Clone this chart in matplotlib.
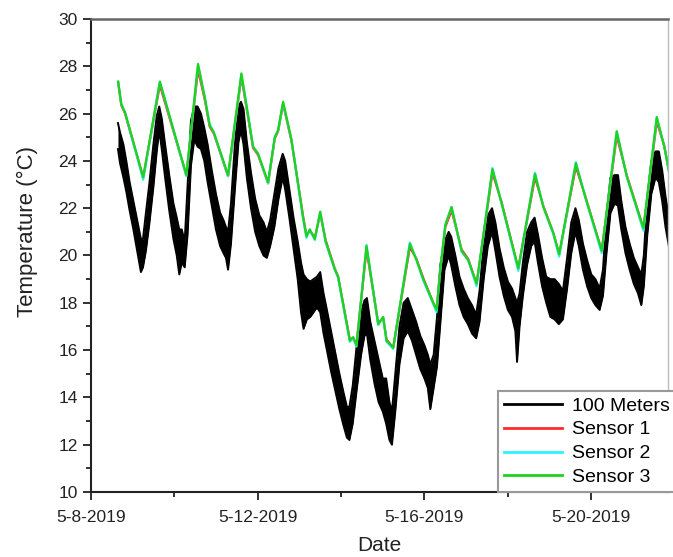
import matplotlib
matplotlib.use("Agg")
import matplotlib.pyplot as plt
import matplotlib.dates as mdates
from matplotlib.ticker import MultipleLocator, FuncFormatter
import numpy as np
import pandas as pd

plt.rcParams['font.family'] = ['Liberation Sans', 'DejaVu Sans']

start = pd.Timestamp("2019-05-08")

# 100 m reference logger: lower / upper edge of the noisy trace (days since 5-8-2019)
t_100m = [0.65, 0.70, 0.78, 0.85, 0.93, 1.02, 1.10, 1.20, 1.25, 1.32, 1.40, 1.50,
          1.58, 1.64, 1.70, 1.78, 1.88, 1.98, 2.06, 2.12, 2.18, 2.25, 2.32, 2.40,
          2.48, 2.56, 2.64, 2.72, 2.80, 2.90, 3.00, 3.10, 3.18, 3.24, 3.29, 3.36,
          3.45, 3.54, 3.60, 3.66, 3.74, 3.84, 3.94, 4.04, 4.14, 4.22, 4.30, 4.40,
          4.50, 4.60, 4.66, 4.76, 4.86, 4.96, 5.04, 5.10, 5.18, 5.26, 5.34, 5.42,
          5.50, 5.58, 5.66, 5.76, 5.86, 5.96, 6.06, 6.14, 6.20, 6.28, 6.38, 6.48,
          6.56, 6.62, 6.70, 6.80, 6.90, 7.00, 7.08, 7.16, 7.22, 7.30, 7.40, 7.50,
          7.60, 7.70, 7.80, 7.90, 8.00, 8.08, 8.14, 8.22, 8.30, 8.38, 8.48, 8.58,
          8.64, 8.74, 8.84, 8.94, 9.04, 9.14, 9.24, 9.32, 9.42, 9.52, 9.62, 9.70,
          9.80, 9.90, 10.00, 10.10, 10.18, 10.22, 10.28, 10.36, 10.46, 10.56, 10.64, 10.72,
          10.82, 10.92, 11.02, 11.12, 11.22, 11.32, 11.42, 11.52, 11.62, 11.70, 11.80, 11.90,
          12.00, 12.10, 12.20, 12.28, 12.36, 12.46, 12.56, 12.64, 12.72, 12.82, 12.92, 13.02,
          13.12, 13.20, 13.26, 13.34, 13.44, 13.54, 13.62, 13.70, 13.78, 13.86]
temp_100m_lo = [24.5, 23.9, 23.3, 22.7, 21.9, 21.1, 20.3, 19.3, 19.5, 20.2, 21.3, 22.9,
                24.4, 25.3, 24.5, 23.3, 21.9, 20.7, 20.0, 19.2, 19.7, 19.5, 20.9, 23.8,
                24.9, 24.6, 24.5, 24.0, 23.1, 22.1, 21.1, 20.4, 20.1, 19.9, 19.4, 20.5,
                22.7, 24.8, 25.3, 24.7, 23.3, 22.0, 21.0, 20.4, 20.0, 19.9, 20.4, 21.2,
                22.4, 23.3, 22.8, 21.6, 20.3, 19.0, 17.6, 16.9, 17.3, 17.4, 17.6, 17.8,
                17.6, 16.7, 16.0, 15.1, 14.3, 13.5, 12.8, 12.3, 12.2, 12.9, 14.4, 15.8,
                16.6, 16.7, 15.6, 14.6, 13.8, 13.4, 12.9, 12.2, 12.0, 13.4, 15.4, 16.5,
                16.8, 16.4, 15.8, 15.2, 14.8, 14.4, 13.5, 14.4, 15.3, 17.1, 19.4, 20.0,
                19.6, 18.7, 17.9, 17.4, 17.1, 16.7, 16.5, 17.2, 19.0, 20.4, 21.0, 20.2,
                19.1, 18.3, 17.7, 17.4, 16.8, 15.5, 17.0, 18.3, 19.6, 20.4, 20.6, 19.7,
                18.7, 18.0, 17.4, 17.3, 17.1, 17.3, 18.6, 20.1, 21.0, 20.4, 19.4, 18.7,
                18.2, 17.9, 17.7, 18.3, 20.0, 21.8, 22.2, 22.1, 21.1, 20.1, 19.4, 18.8,
                18.4, 17.9, 18.7, 20.8, 22.6, 23.3, 23.1, 22.3, 21.2, 20.4]
temp_100m_hi = [25.6, 25.2, 24.7, 24.0, 23.1, 22.3, 21.6, 20.7, 20.7, 21.8, 23.0, 24.7,
                25.9, 26.3, 25.8, 24.7, 23.4, 22.2, 21.6, 21.1, 21.1, 20.6, 23.0, 25.7,
                26.3, 26.3, 26.0, 25.4, 24.7, 23.6, 22.6, 21.8, 21.5, 21.2, 21.0, 22.2,
                24.6, 26.3, 26.5, 26.2, 24.8, 23.5, 22.4, 21.7, 21.4, 21.0, 21.5, 22.6,
                23.7, 24.3, 24.0, 22.8, 21.6, 20.6, 19.7, 19.2, 19.0, 18.9, 19.0, 19.1,
                19.3, 18.4, 17.7, 16.8, 15.9, 15.0, 14.2, 13.6, 13.6, 14.5, 16.3, 17.6,
                18.1, 18.2, 17.2, 16.4, 15.6, 14.8, 14.8, 13.8, 13.4, 15.0, 17.0, 18.0,
                18.2, 17.7, 17.2, 16.6, 16.2, 15.8, 15.4, 15.8, 17.4, 19.6, 20.6, 21.0,
                20.8, 20.0, 19.1, 18.6, 18.2, 17.9, 17.5, 18.5, 20.5, 21.7, 22.0, 21.4,
                20.3, 19.5, 18.9, 18.6, 18.2, 18.0, 18.4, 19.7, 21.0, 21.4, 21.6, 20.9,
                19.9, 19.1, 19.0, 19.0, 18.8, 18.5, 19.9, 21.4, 22.0, 21.5, 20.5, 19.8,
                19.2, 19.0, 18.6, 19.4, 21.6, 23.3, 23.4, 23.4, 22.3, 21.2, 20.5, 19.9,
                19.5, 19.2, 20.0, 22.4, 24.0, 24.4, 24.4, 23.6, 22.5, 21.6]

# probe sensors, sampled at the turning points of the daily cycle
t_sensor = [0.655, 0.73, 0.82, 1.255, 1.655, 2.29, 2.57, 2.73, 2.85, 2.95, 3.29, 3.61,
            3.89, 4.01, 4.25, 4.41, 4.49, 4.61, 4.81, 5.09, 5.17, 5.25, 5.37, 5.50,
            5.63, 5.85, 5.93, 6.21, 6.29, 6.37, 6.61, 6.89, 7.01, 7.09, 7.25, 7.65,
            7.81, 7.97, 8.21, 8.29, 8.37, 8.50, 8.65, 8.89, 9.05, 9.25, 9.63, 9.85,
            10.25, 10.65, 10.85, 11.09, 11.23, 11.63, 11.85, 12.25, 12.61, 12.85, 13.25, 13.57,
            13.75, 13.86]
sensor1 = [27.30, 26.35, 26.00, 23.30, 27.20, 23.40, 27.85, 26.60, 25.45, 25.15, 23.35, 27.55,
           24.55, 24.25, 23.05, 24.95, 25.25, 26.40, 24.85, 21.65, 20.85, 21.05, 20.75, 21.75,
           20.65, 19.45, 19.10, 16.45, 16.50, 16.25, 20.25, 17.15, 17.35, 16.45, 16.10, 20.35,
           19.85, 19.05, 18.00, 17.70, 19.20, 21.20, 21.90, 20.25, 19.85, 18.80, 23.50, 22.25,
           19.45, 23.30, 22.10, 20.95, 20.05, 23.75, 22.55, 20.20, 25.05, 23.40, 21.15, 25.65,
           24.65, 23.60]
sensor2 = [27.35, 26.40, 26.05, 23.20, 27.35, 23.35, 28.05, 26.70, 25.55, 25.20, 23.35, 27.65,
           24.60, 24.30, 23.05, 25.00, 25.30, 26.45, 24.90, 21.55, 20.75, 21.10, 20.65, 21.85,
           20.55, 19.40, 19.05, 16.35, 16.50, 16.15, 20.45, 17.05, 17.40, 16.35, 16.05, 20.55,
           19.80, 18.95, 17.95, 17.60, 19.25, 21.30, 22.05, 20.15, 19.80, 18.70, 23.70, 22.20,
           19.35, 23.50, 22.05, 20.90, 19.95, 23.95, 22.50, 20.10, 25.25, 23.35, 21.05, 25.85,
           24.60, 23.55]
sensor3 = [27.35, 26.40, 26.05, 23.30, 27.35, 23.40, 28.10, 26.70, 25.50, 25.20, 23.40, 27.70,
           24.60, 24.30, 23.10, 25.00, 25.30, 26.50, 24.90, 21.60, 20.80, 21.10, 20.70, 21.85,
           20.60, 19.40, 19.10, 16.40, 16.55, 16.20, 20.40, 17.10, 17.40, 16.40, 16.10, 20.50,
           19.80, 19.00, 18.00, 17.70, 19.25, 21.30, 22.05, 20.20, 19.80, 18.80, 23.65, 22.20,
           19.45, 23.45, 22.05, 20.95, 20.05, 23.90, 22.50, 20.20, 25.25, 23.35, 21.15, 25.85,
           24.60, 23.60]

x_end_days = 13.84


def to_dates(days):
    return start + pd.to_timedelta(days, unit="D")


fig = plt.figure(figsize=(6.73, 5.57), dpi=100)
ax = fig.add_axes([0.135, 0.1167, 0.8576, 0.8492])

d100 = to_dates(t_100m)
ax.fill_between(d100, temp_100m_lo, temp_100m_hi, color="black", linewidth=0)
ax.plot(d100, temp_100m_lo, color="black", lw=1.4, label="100 Meters")
ax.plot(d100, temp_100m_hi, color="black", lw=1.4)

ds = to_dates(t_sensor)
ax.plot(ds, sensor1, color="#ff2a2a", lw=1.6, label="Sensor 1")
ax.plot(ds, sensor2, color="#2ef2ff", lw=1.6, label="Sensor 2")
ax.plot(ds, sensor3, color="#1fd21f", lw=1.6, label="Sensor 3")

ax.set_xlim(start, to_dates([x_end_days])[0])
ax.set_ylim(10, 30)

ax.xaxis.set_major_locator(mdates.DayLocator(bymonthday=[8, 12, 16, 20]))
ax.xaxis.set_minor_locator(mdates.DayLocator(bymonthday=[10, 14, 18, 22]))
ax.xaxis.set_major_formatter(FuncFormatter(
    lambda v, pos: (lambda d: f"{d.month}-{d.day}-{d.year}")(mdates.num2date(v))))
ax.yaxis.set_major_locator(MultipleLocator(2))
ax.yaxis.set_minor_locator(MultipleLocator(1))

ax.tick_params(which="both", direction="out", width=1.3, colors="#222",
               labelsize=12.5)
ax.tick_params(axis="x", which="major", pad=7)
ax.tick_params(which="major", length=6)
ax.tick_params(which="minor", length=3.5)

for side in ("left", "bottom"):
    ax.spines[side].set_linewidth(1.5)
    ax.spines[side].set_color("#222")
ax.spines["top"].set_linewidth(1.8)
ax.spines["top"].set_color("#666")
ax.spines["right"].set_linewidth(1.0)
ax.spines["right"].set_color("#bbb")

ax.set_xlabel("Date", fontsize=15, color="#222")
ax.xaxis.set_label_coords(0.5, -0.093)
ax.set_ylabel("Temperature (°C)", fontsize=16, color="#222")
ax.yaxis.set_label_coords(-0.092, 0.55)

leg = ax.legend(loc="lower left", bbox_to_anchor=(0.705, 0.0), borderaxespad=0,
                fontsize=14, frameon=True, fancybox=False, framealpha=1,
                edgecolor="#999", handlelength=3.0, handletextpad=0.5,
                labelspacing=0.32, borderpad=0.3)
leg.get_frame().set_linewidth(1.5)
for line in leg.get_lines():
    line.set_linewidth(2)

fig.savefig("out.png", dpi=100)
